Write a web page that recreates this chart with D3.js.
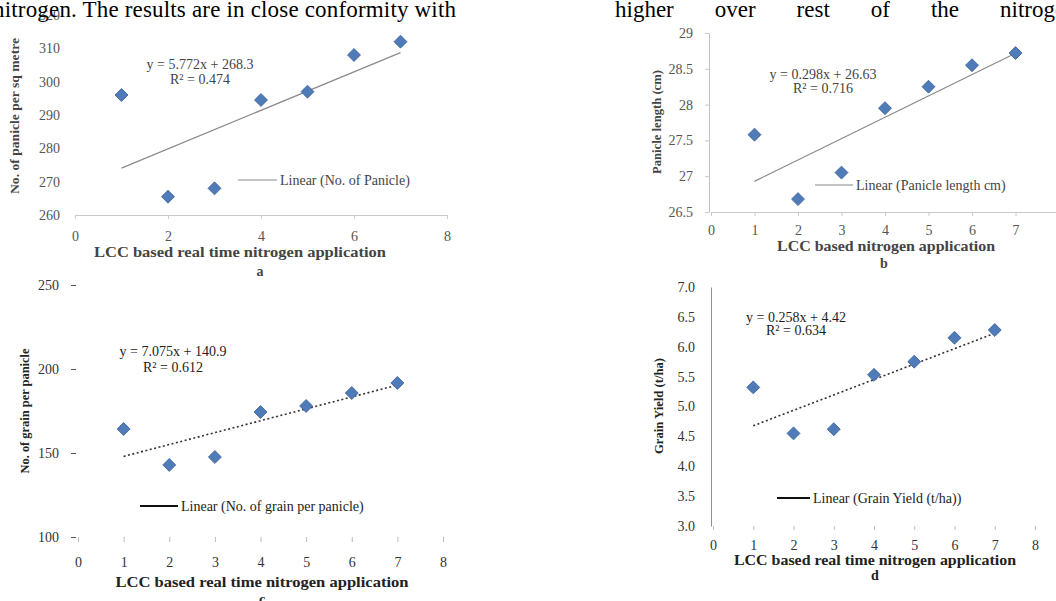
<!DOCTYPE html>
<html>
<head>
<meta charset="utf-8">
<script src="https://cdn.jsdelivr.net/npm/d3@7"></script>
<style>
  body { margin: 0; background: #fff; }
  svg { display: block; }
</style>
</head>
<body>
<div id="chart"></div>
<script>
// Four LCC scatter plots with linear trend lines (panels a-d)
(() => {

// ---- data ----
const lccLevels = [1, 2, 3, 4, 5, 6, 7];
const panicleNo = [296, 265.5, 268, 294.5, 297, 308, 312];
const panicleLength = [27.58, 26.68, 27.05, 27.95, 28.25, 28.55, 28.72];
const grainsPerPanicle = [164.3, 142.9, 147.6, 174.4, 178, 185.7, 191.7];
const grainYield = [5.32, 4.55, 4.62, 5.53, 5.75, 6.15, 6.28];

const ticksA = [260, 270, 280, 290, 300, 310, 320];
const ticksB = [26.5, 27, 27.5, 28, 28.5, 29];
const ticksC = [100, 150, 200, 250];
const ticksD = [3, 3.5, 4, 4.5, 5, 5.5, 6, 6.5, 7];
const xTicksA = [0, 2, 4, 6, 8];
const xTicksAll = [0, 1, 2, 3, 4, 5, 6, 7, 8];

const trendSlopes = [5.772, 0.298, 7.075, 0.258];
const trendIntercepts = [268.3, 26.63, 140.9, 4.42];
const equations = ["y = 5.772x + 268.3", "y = 0.298x + 26.63", "y = 7.075x + 140.9", "y = 0.258x + 4.42"];
const rSquared = ["R² = 0.474", "R² = 0.716", "R² = 0.612", "R² = 0.634"];
const legendLabels = ["Linear (No. of Panicle)", "Linear (Panicle length cm)",
  "Linear (No. of grain per panicle)", "Linear (Grain Yield (t/ha))"];
const xTitles = ["LCC based real time nitrogen application", "LCC based nitrogen application",
  "LCC based real time nitrogen application", "LCC based real time nitrogen application"];
const yTitles = ["No. of panicle per sq metre", "Panicle length (cm)",
  "No. of grain per panicle", "Grain Yield (t/ha)"];
const panelLetters = ["a", "b", "c", "d"];

const leftWords = "nitrogen. The results are in close conformity with";
const rightWords = ["higher", "over", "rest", "of", "the", "nitrogen"];

const serif = "'Liberation Serif', 'Times New Roman', serif";

const svg = d3.select("#chart").append("svg")
  .attr("width", 1056)
  .attr("height", 601);

// layout of each panel (page pixels)
const panels = [
  { values: panicleNo, yTicks: ticksA, xTicks: xTicksA, fmt: d3.format("d"),
    xRange: [75, 447], yDomain: [260, 320], yRange: [215, 15],
    xLine: "#c8c8c8", yLine: "none", xTick: 4, xPad: 12, yTick: 0, yPad: 13, tickCol: "#d0d0d0",
    labelCol: "#555", trendCol: "#8a8a8a", dash: null, trendW: 1.2,
    eq: [200, 69, 84], leg: [238, 277, 180], xTitle: [240, 257, 292], letter: [260, 276],
    yTitle: [14, 116, 156], textCol: "#444" },
  { values: panicleLength, yTicks: ticksB, xTicks: xTicksAll, fmt: d3.format("~g"),
    xRange: [711, 1059], yDomain: [26.5, 29], yRange: [212, 33],
    xLine: "#c8c8c8", yLine: "#c0c0c0", xTick: 4, xPad: 9, yTick: 4, yPad: 12, tickCol: "#c8c8c8",
    labelCol: "#555", trendCol: "#8a8a8a", dash: null, trendW: 1.2,
    eq: [823, 79, 93], leg: [815, 853, 185], xTitle: [886, 251, 218], letter: [884, 268],
    yTitle: [656, 122, 104], textCol: "#444" },
  { values: grainsPerPanicle, yTicks: ticksC, xTicks: xTicksAll, fmt: d3.format("d"),
    xRange: [78, 443], yDomain: [100, 250], yRange: [537, 285],
    xLine: "none", yLine: "none", xTick: 5, xPad: 15, yTick: 5, yPad: 12, tickCol: "#bbb",
    labelCol: "#333", trendCol: "#333", dash: "2,2.5", trendW: 1.6,
    eq: [173, 356, 372], leg: [140, 178, 506], xTitle: [262, 587, 293], letter: [262, 604],
    yTitle: [24, 411, 125], textCol: "#222" },
  { values: grainYield, yTicks: ticksD, xTicks: xTicksAll, fmt: d3.format(".1f"),
    xRange: [713, 1035], yDomain: [3, 7], yRange: [526, 287],
    xLine: "none", yLine: "#909090", xTick: 4, xPad: 10, yTick: 0, yPad: 16, tickCol: "#bbb",
    labelCol: "#333", trendCol: "#333", dash: "2,2.5", trendW: 1.6,
    eq: [796, 322, 335], leg: [777, 810, 498], xTitle: [875, 565, 282], letter: [875, 580],
    yTitle: [658, 406, 96], textCol: "#222" }
];

panels.forEach((p, i) => {
  const g = svg.append("g");
  const x = d3.scaleLinear().domain([0, 8]).range(p.xRange);
  const y = d3.scaleLinear().domain(p.yDomain).range(p.yRange);

  // X axis
  const xAxis = g.append("g")
    .attr("transform", `translate(0,${p.yRange[0]})`)
    .call(d3.axisBottom(x).tickValues(p.xTicks).tickFormat(d3.format("d"))
      .tickSizeInner(p.xTick).tickSizeOuter(0).tickPadding(p.xPad));
  xAxis.select(".domain").attr("stroke", p.xLine);
  xAxis.selectAll(".tick line").attr("stroke", p.tickCol);
  xAxis.selectAll("text")
    .attr("fill", p.labelCol)
    .style("font-family", serif)
    .style("font-size", "14px");

  // Y axis
  const yAxis = g.append("g")
    .attr("transform", `translate(${x(0) - 2},0)`)
    .call(d3.axisLeft(y).tickValues(p.yTicks).tickFormat(p.fmt)
      .tickSizeInner(p.yTick).tickSizeOuter(0).tickPadding(p.yPad));
  yAxis.select(".domain").attr("stroke", p.yLine);
  yAxis.selectAll(".tick line").attr("stroke", i === 2 ? "#555" : p.tickCol);
  yAxis.selectAll("text")
    .attr("fill", p.labelCol)
    .style("font-family", serif)
    .style("font-size", "14px");

  // Trend line between the first and last LCC level
  const ends = d3.extent(lccLevels);
  const line = d3.line()
    .x(d => x(d))
    .y(d => y(trendSlopes[i] * d + trendIntercepts[i]));
  g.append("path")
    .datum(ends)
    .attr("fill", "none")
    .attr("stroke", p.trendCol)
    .attr("stroke-width", p.trendW)
    .attr("stroke-dasharray", p.dash)
    .attr("d", line);

  // Diamond markers
  g.selectAll("path.pt")
    .data(lccLevels.map((d, k) => [d, p.values[k]]))
    .join("path")
    .attr("class", "pt")
    .attr("d", d3.symbol(d3.symbolSquare, 84))
    .attr("transform", d => `translate(${x(d[0])},${y(d[1])}) rotate(45)`)
    .attr("fill", "#4f7cb8")
    .attr("stroke", "#3e6298")
    .attr("stroke-width", 0.8);

  // Equation and R²
  g.append("text")
    .attr("x", p.eq[0]).attr("y", p.eq[1])
    .attr("text-anchor", "middle")
    .attr("fill", p.textCol)
    .style("font-family", serif).style("font-size", "14px")
    .text(equations[i]);
  g.append("text")
    .attr("x", p.eq[0]).attr("y", p.eq[2])
    .attr("text-anchor", "middle")
    .attr("fill", p.textCol)
    .style("font-family", serif).style("font-size", "14px")
    .text(rSquared[i]);

  // Legend
  g.append("line")
    .attr("x1", p.leg[0]).attr("x2", p.leg[1])
    .attr("y1", p.leg[2]).attr("y2", p.leg[2])
    .attr("stroke", i < 2 ? "#8a8a8a" : "#111")
    .attr("stroke-width", i < 2 ? 1.2 : 1.8);
  g.append("text")
    .attr("x", p.leg[1] + 3).attr("y", p.leg[2] + 4.5)
    .attr("fill", p.textCol)
    .style("font-family", serif).style("font-size", "14px")
    .text(legendLabels[i]);

  // Axis titles and panel letter
  g.append("text")
    .attr("x", p.xTitle[0]).attr("y", p.xTitle[1])
    .attr("text-anchor", "middle")
    .attr("textLength", p.xTitle[2])
    .attr("lengthAdjust", "spacingAndGlyphs")
    .attr("fill", p.textCol)
    .style("font-family", serif).style("font-size", "14px").style("font-weight", "bold")
    .text(xTitles[i]);
  g.append("text")
    .attr("x", p.letter[0]).attr("y", p.letter[1])
    .attr("text-anchor", "middle")
    .attr("fill", p.textCol)
    .style("font-family", serif).style("font-size", "14px").style("font-weight", "bold")
    .text(panelLetters[i]);
  g.append("text")
    .attr("transform", `translate(${p.yTitle[0]},${p.yTitle[1]}) rotate(-90)`)
    .attr("text-anchor", "middle")
    .attr("dy", "0.35em")
    .attr("textLength", p.yTitle[2])
    .attr("lengthAdjust", "spacingAndGlyphs")
    .attr("fill", p.textCol)
    .style("font-family", serif).style("font-size", "13px").style("font-weight", "bold")
    .text(yTitles[i]);
});

// Running text of the page above the figures
svg.append("rect")
  .attr("x", 0).attr("y", 0).attr("width", 1056).attr("height", 11)
  .attr("fill", "#fff");
svg.append("text")
  .attr("x", -7).attr("y", 17)
  .attr("textLength", 463)
  .attr("lengthAdjust", "spacing")
  .style("font-family", serif).style("font-size", "23px")
  .attr("fill", "#000")
  .text(leftWords);

// justified words: equal gaps between measured word widths
const words = svg.selectAll("text.word")
  .data(rightWords)
  .join("text")
  .attr("class", "word")
  .attr("y", 17)
  .style("font-family", serif).style("font-size", "23px")
  .attr("fill", "#000")
  .text(d => d);
const widths = words.nodes().map(n => n.getComputedTextLength());
const lastStart = 1000, firstStart = 615;
const gap = (lastStart - firstStart - d3.sum(widths.slice(0, -1))) / (rightWords.length - 1);
let cursor = firstStart;
words.each(function(d, k) {
  d3.select(this).attr("x", cursor);
  cursor += widths[k] + gap;
});

})();
</script>
</body>
</html>
